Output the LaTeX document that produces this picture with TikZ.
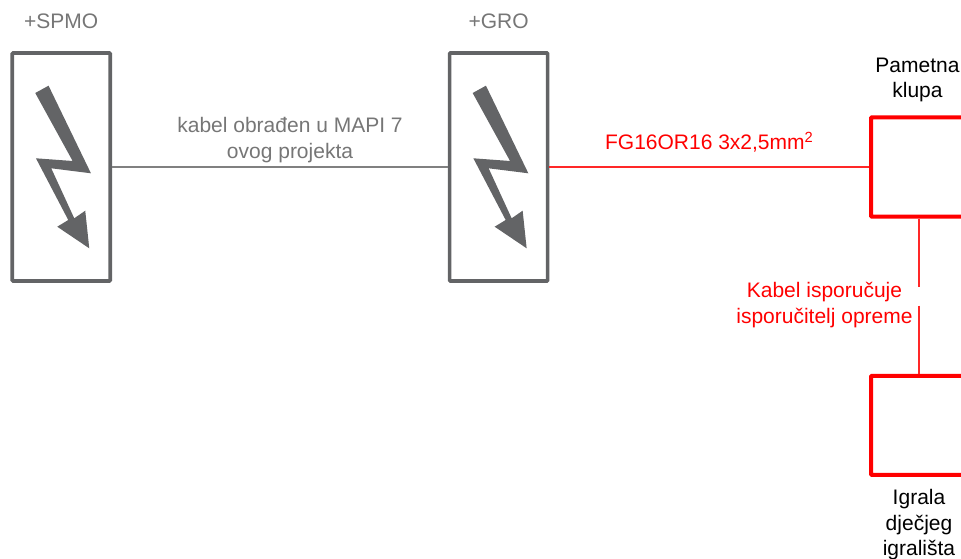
\documentclass[tikz,border=0pt]{standalone}
\usepackage{fontspec}
\setmainfont{Liberation Sans}
\usetikzlibrary{positioning}
\definecolor{panelGrey}{RGB}{99, 100, 102}
\definecolor{labelGrey}{RGB}{118, 118, 118}
\definecolor{cableGrey}{RGB}{128, 128, 128}
\definecolor{cableRed}{RGB}{255, 40, 40}

\begin{document}
\begin{tikzpicture}[
  x=1pt,y=-1pt,
  panel/.style={
    draw=panelGrey,
    line width=3.6pt,
    rounded corners=0.8pt,
    minimum width=98pt,
    minimum height=228pt
  },
  device/.style={
    draw=red,
    line width=4pt,
    rounded corners=0.8pt,
    minimum width=96pt,
    minimum height=99pt
  },
  caption/.style={
    inner sep=0pt,
    align=center,
    font=\fontsize{21}{25.4}\selectfont
  },
  greycable/.style={cableGrey,line width=1.4pt},
  redcable/.style={cableRed,line width=1.4pt}
]
  \clip (0,0) rectangle (961,559);
  \node[panel] (spmo) at (61.25,167) {};
  \node[panel,right=335.8pt of spmo] (gro) {};
  \node[device] (klupa) at (919,167) {};
  \node[device] (igrala) at (919,425.3) {};

  \foreach \panelname in {spmo,gro}
    \fill[panelGrey,shift={(\panelname.center)}]
      (-26,-74) -- (-12.7,-81.3) -- (29.7,6.3) -- (-10,1.3) -- (13,51.3)
      -- (24,43.7) -- (28,81.3) -- (-4,59.7) -- (7,53) -- (-25.3,-8.7)
      -- (11.4,-6) -- cycle;

  \node[caption,labelGrey,above=22pt of spmo] (spmolabel) {+SPMO};
  \node[caption,labelGrey,above=22pt of gro] (grolabel) {+GRO};
  \node[caption,xshift=-1.5pt,above=13.5pt of klupa] (klupalabel) {Pametna\\klupa};
  \node[caption,below=12.5pt of igrala] (igralalabel) {Igrala\\dječjeg\\igrališta};

  \coordinate (gaptop) at (919,287);
  \coordinate (gapbottom) at (919,305.5);

  \draw[greycable] (spmo) -- node[pos=0.53,above=3.6pt,caption,labelGrey]
    {kabel obrađen u MAPI 7\\ovog projekta} (gro);
  \draw[redcable] (gro) -- node[above=14pt,caption,red]
    {FG16OR16 3x2,5mm\textsuperscript{2}} (klupa);
  \draw[redcable] (klupa.south) -- (gaptop);
  \draw[redcable] (gapbottom) -- (igrala.north);
  \node[caption,red,anchor=center] (supplierlabel) at (824.5,305)
    {Kabel isporučuje\\isporučitelj opreme};
\end{tikzpicture}
\end{document}
